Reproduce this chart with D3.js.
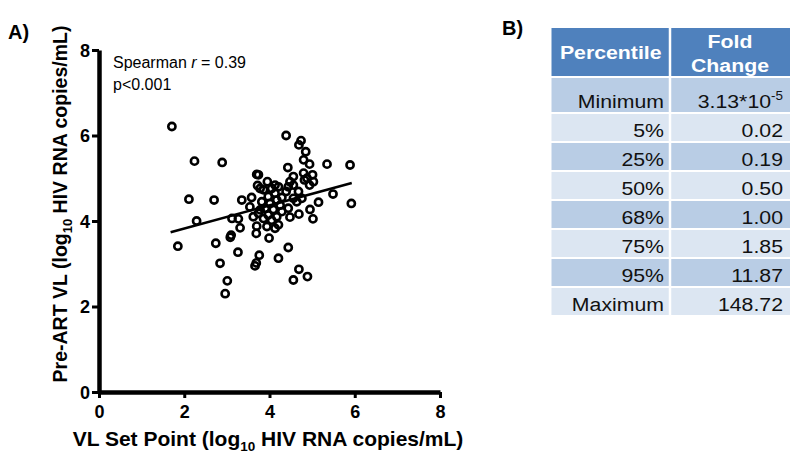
<!DOCTYPE html>
<html><head><meta charset="utf-8">
<script src="https://cdn.jsdelivr.net/npm/d3@7"></script>
<style>
html,body{margin:0;padding:0;background:#fff;}
svg{display:block;font-family:"Liberation Sans",Arial,sans-serif;}
</style></head>
<body><svg id="c" width="800" height="456"></svg>
<script>
// ---------- data ----------
const setPoint = [1.71,2.24,2.89,2.11,2.70,2.29,1.85,2.74,3.26,2.84,3.01,2.96,4.39,4.74,4.69,4.85,4.80,4.94,4.43,5.35,5.89,3.70,3.95,3.72,4.21,5.49,5.92,5.15,4.95,5.02,4.69,4.48,3.35,3.58,3.12,3.27,3.31,3.10,3.70,3.69,3.99,4.44,4.21,3.76,3.69,3.66,4.69,4.89,4.56,4.80,4.88,5.01,5.03,4.94,4.82,4.56,4.48,4.44,4.56,4.68,4.56,4.76,4.64,4.39,3.86,4.05,4.13,3.97,4.17,3.82,4.01,4.25,3.90,4.09,3.78,4.29,3.97,4.17,3.86,4.05,4.21,4.13,3.94,3.74,3.54,3.62,4.29,4.13,4.44,3.08,3.74,3.78];
const preART  = [6.21,5.40,5.37,4.51,4.49,4.00,3.41,3.48,3.27,3.01,2.60,2.30,6.00,5.88,5.78,5.62,5.43,5.33,5.25,5.33,5.31,5.09,4.92,4.83,4.80,4.63,4.41,4.44,4.27,4.05,4.16,4.09,4.49,4.55,4.06,4.05,3.84,3.67,3.88,3.71,3.60,3.38,3.13,3.20,3.02,2.95,2.87,2.70,2.62,5.12,5.00,5.08,4.92,4.84,4.96,5.04,4.92,4.80,4.84,4.69,4.53,4.53,4.45,4.69,4.73,4.76,4.65,4.57,4.49,4.45,4.41,4.37,4.30,4.27,4.26,4.22,4.14,4.10,4.06,4.02,3.91,3.83,3.87,4.18,4.33,4.10,4.55,4.84,4.30,3.62,5.08,4.76];
const xTicks = [0,2,4,6,8];
const yTicks = [0,2,4,6,8];
const fitX = [1.68, 5.93];
const fitSlope = 0.27, fitIntercept = 3.286;
const percentiles = ["Minimum","5%","25%","50%","68%","75%","95%","Maximum"];
const foldChange  = ["3.13*10|-5","0.02","0.19","0.50","1.00","1.85","11.87","148.72"];
const headers = ["Percentile","Fold|Change"];

// ---------- scatter ----------
const svg = d3.select("#c");
const x = d3.scaleLinear().domain([0,8]).range([99,440]);
const y = d3.scaleLinear().domain([0,8]).range([392,50]);

svg.append("text").attr("x",8).attr("y",39).attr("font-size",20).attr("font-weight","bold").text("A)");
svg.append("text").attr("x",502).attr("y",35).attr("font-size",20).attr("font-weight","bold").text("B)");

const gx = svg.append("g").attr("transform","translate(0,392)")
  .call(d3.axisBottom(x).tickValues(xTicks).tickSize(6).tickSizeOuter(0).tickPadding(7));
const gy = svg.append("g").attr("transform","translate(99,0)")
  .call(d3.axisLeft(y).tickValues(yTicks).tickSize(7).tickSizeOuter(0).tickPadding(2));
[gx,gy].forEach(g=>{
  g.select(".domain").attr("stroke","#000").attr("stroke-width",4.5);
  g.selectAll(".tick line").attr("stroke","#000").attr("stroke-width",3);
  g.selectAll(".tick text").attr("font-size",18).attr("font-weight","bold").attr("fill","#000")
   .attr("font-family","Liberation Sans, Arial, sans-serif");
});
gx.selectAll(".tick text").attr("dy","0.72em");
gy.selectAll(".tick text").attr("dy","0.36em");

// axis titles
const xt = svg.append("text").attr("x",268).attr("y",446).attr("text-anchor","middle")
  .attr("font-size",21).attr("font-weight","bold");
xt.append("tspan").text("VL Set Point (log");
xt.append("tspan").attr("font-size",13.5).attr("dy",5).text("10");
xt.append("tspan").attr("dy",-5).text(" HIV RNA copies/mL)");

const yt = svg.append("text").attr("transform","translate(67,204) rotate(-90)").attr("text-anchor","middle")
  .attr("font-size",19.5).attr("font-weight","bold");
yt.append("tspan").text("Pre-ART VL (log");
yt.append("tspan").attr("font-size",13).attr("dy",5).text("10");
yt.append("tspan").attr("dy",-5).text(" HIV RNA copies/mL)");

// annotation
const s1 = svg.append("text").attr("x",113).attr("y",68).attr("font-size",16);
s1.append("tspan").text("Spearman ");
s1.append("tspan").attr("font-style","italic").text("r");
s1.append("tspan").text(" = 0.39");
svg.append("text").attr("x",113).attr("y",90).attr("font-size",16).text("p<0.001");

// fit line
svg.append("line")
  .attr("x1",x(fitX[0])).attr("y1",y(fitIntercept+fitSlope*fitX[0]))
  .attr("x2",x(fitX[1])).attr("y2",y(fitIntercept+fitSlope*fitX[1]))
  .attr("stroke","#000").attr("stroke-width",2.6);

// points
svg.append("g").selectAll("circle").data(setPoint.map((v,i)=>[v,preART[i]])).join("circle")
  .attr("cx",d=>x(d[0])).attr("cy",d=>y(d[1])).attr("r",3.6)
  .attr("fill","none").attr("stroke","#000").attr("stroke-width",2.6);

// ---------- table ----------
const tL = 551.5, tR = 790, colSplit = 670, gap = 2.5;
const headTop = 28, headH = 48, firstH = 34, rowH = 27, rg = 2;
const rowTop = i => i===0 ? headTop+headH+rg : headTop+headH+rg+firstH+rg+(i-1)*(rowH+rg);
const rowHt = i => i===0 ? firstH : rowH;
const sx = 1.12;
const tg = svg.append("g");
tg.append("rect").attr("x",tL).attr("y",headTop).attr("width",colSplit-tL-gap/2).attr("height",headH).attr("fill","#4F81BD");
tg.append("rect").attr("x",colSplit+gap/2).attr("y",headTop).attr("width",tR-colSplit-gap/2).attr("height",headH).attr("fill","#4F81BD");
function stext(g, tx, ty, anchor, str, opts){
  const t = g.append("text").attr("transform",`translate(${tx},${ty}) scale(${sx},1)`)
    .attr("text-anchor",anchor).attr("font-size",19).attr("fill",opts.fill||"#111")
    .attr("font-weight",opts.bold?"bold":"normal");
  const parts = str.split("|");
  t.append("tspan").text(parts[0]);
  if(parts.length>1) t.append("tspan").attr("font-size",12).attr("dy",-8).text(parts[1]);
  return t;
}
stext(tg,(tL+colSplit)/2,59,"middle",headers[0],{fill:"#fff",bold:true});
const hp = headers[1].split("|");
stext(tg,(colSplit+tR)/2,48,"middle",hp[0],{fill:"#fff",bold:true});
stext(tg,(colSplit+tR)/2,72,"middle",hp[1],{fill:"#fff",bold:true});
percentiles.forEach((p,i)=>{
  const top=rowTop(i), h=rowHt(i);
  const col = i%2===0 ? "#B9CDE5" : "#DCE6F2";
  tg.append("rect").attr("x",tL).attr("y",top).attr("width",colSplit-tL-gap/2).attr("height",h).attr("fill",col);
  tg.append("rect").attr("x",colSplit+gap/2).attr("y",top).attr("width",tR-colSplit-gap/2).attr("height",h).attr("fill",col);
  stext(tg,664,top+h-4,"end",p,{});
  stext(tg,783,top+h-4,"end",foldChange[i],{});
});
</script></body></html>
